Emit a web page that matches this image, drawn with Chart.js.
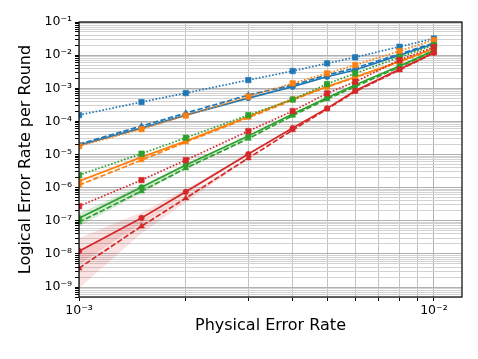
<!DOCTYPE html>
<html>
<head>
<meta charset="utf-8">
<script src="https://cdn.jsdelivr.net/npm/chart.js@4.4.1/dist/chart.umd.min.js"></script>
<style>
    html, body { margin: 0; padding: 0; background: #fff; }
    canvas { display: block; }
</style>
</head>
<body>
<canvas id="myChart" width="478" height="359"></canvas>
<script>
// physical error rates sampled
const physErr = [0.001, 0.0015, 0.002, 0.003, 0.004, 0.005, 0.006, 0.008, 0.01];

// logical error rate per round
const blueDotted   = [1.55e-4, 3.83e-4, 7.16e-4, 1.77e-3, 3.31e-3, 5.65e-3, 8.59e-3, 1.79e-2, 3.18e-2];
const blueDashed   = [2.06e-5, 7.21e-5, 1.78e-4, 6.23e-4, 1.25e-3, 2.51e-3, 4.08e-3, 1.08e-2, 2.32e-2];
const blueSolid    = [1.92e-5, 6.28e-5, 1.55e-4, 5.06e-4, 1.12e-3, 2.23e-3, 3.55e-3, 1.00e-2, 2.16e-2];
const orangeDotted = [1.79e-5, 5.85e-5, 1.50e-4, 5.61e-4, 1.41e-3, 2.82e-3, 5.02e-3, 1.33e-2, 2.86e-2];
const orangeDashed = [1.19e-6, 6.78e-6, 2.37e-5, 1.30e-4, 4.40e-4, 1.09e-3, 2.10e-3, 6.19e-3, 1.53e-2];
const orangeSolid  = [1.57e-6, 8.34e-6, 2.54e-5, 1.40e-4, 4.72e-4, 1.12e-3, 2.18e-3, 6.41e-3, 1.58e-2];
const greenDotted  = [2.39e-6, 1.06e-5, 3.20e-5, 1.55e-4, 4.56e-4, 1.34e-3, 2.82e-3, 8.59e-3, 2.02e-2];
const greenSolid   = [1.20e-7, 1.03e-6, 4.79e-6, 3.60e-5, 1.66e-4, 5.16e-4, 1.25e-3, 4.69e-3, 1.38e-2];
const greenDashed  = [9.07e-8, 7.84e-7, 3.88e-6, 3.02e-5, 1.50e-4, 4.72e-4, 1.12e-3, 4.37e-3, 1.33e-2];
const redDotted    = [2.76e-7, 1.69e-6, 6.78e-6, 5.09e-5, 2.05e-4, 7.02e-4, 1.57e-3, 7.11e-3, 1.76e-2];
const redSolid     = [1.21e-8, 1.22e-7, 7.47e-7, 1.03e-5, 6.28e-5, 2.47e-4, 8.40e-4, 3.72e-3, 1.18e-2];
const redDashed    = [3.70e-9, 6.87e-8, 4.82e-7, 7.78e-6, 5.46e-5, 2.35e-4, 7.95e-4, 3.55e-3, 1.16e-2];

// shaded uncertainty bands at the low end
const bandErr       = [0.001, 0.0015, 0.002, 0.003];
const redSolidHi    = [2.98e-8, 1.82e-7, 9.01e-7, 1.10e-5];
const redSolidLo    = [4.89e-9, 8.46e-8, 6.15e-7, 9.60e-6];
const redDashedHi   = [1.29e-8, 1.04e-7, 5.93e-7, 8.10e-6];
const redDashedLo   = [9.20e-10, 4.22e-8, 3.65e-7, 7.26e-6];
const greenBandHi   = [1.70e-7, 1.19e-6, 5.13e-6, 3.70e-5];
const greenBandLo   = [6.87e-8, 6.82e-7, 3.62e-6, 2.95e-5];

const xTickMin = 0.001, xTickMax = 0.012;
const yTickMin = 5e-10, yTickMax = 0.1;

const BLUE = '#1f77b4', ORANGE = '#ff7f0e', GREEN = '#2ca02c', RED = '#d62728';

document.addEventListener('DOMContentLoaded', () => {

    const isDecade = v => Math.abs(Math.log10(v) - Math.round(Math.log10(v))) < 1e-6;
    const supMap = {'-': '\u207b', '0': '\u2070', '1': '\u00b9', '2': '\u00b2', '3': '\u00b3',
        '4': '\u2074', '5': '\u2075', '6': '\u2076', '7': '\u2077', '8': '\u2078', '9': '\u2079'};
    const decadeLabel = v => isDecade(v)
        ? '10' + String(Math.round(Math.log10(v))).split('').map(c => supMap[c]).join('')
        : '';

    function logTicks(scale) {
        const ticks = [];
        for (let e = -11; e <= 0; e++) {
            for (let m = 1; m <= 9; m++) {
                const v = parseFloat((m * Math.pow(10, e)).toPrecision(6));
                if (v >= scale.min * 0.9999 && v <= scale.max * 1.0001) ticks.push({value: v});
            }
        }
        scale.ticks = ticks;
    }

    const lineStyles = {
        solid:  {dash: [],          point: 'circle',   r: 2.8},
        dashed: {dash: [5.5, 2.2],  point: 'triangle', r: 3.5},
        dotted: {dash: [1.6, 1.8],  point: 'rect',     r: 3.9}
    };

    let idx = 0;
    function series(values, color, style) {
        const s = lineStyles[style];
        idx++;
        return {
            data: physErr.map((x, i) => ({x: x, y: values[i]})),
            borderColor: color,
            backgroundColor: color,
            borderWidth: 1.7,
            borderDash: s.dash,
            pointStyle: s.point,
            pointRadius: s.r,
            pointBorderWidth: 0.5,
            pointBorderColor: color,
            pointBackgroundColor: color,
            tension: 0,
            fill: false,
            clip: 0,
            order: 100 - idx
        };
    }

    function bandEdge(values, color, fillPrev) {
        return {
            data: bandErr.map((x, i) => ({x: x, y: values[i]})),
            borderWidth: 0,
            borderColor: 'rgba(0,0,0,0)',
            backgroundColor: color,
            pointRadius: 0,
            tension: 0,
            fill: fillPrev ? '-1' : false,
            clip: 0,
            order: 200
        };
    }

    const datasets = [
        bandEdge(greenBandHi, 'rgba(44,160,44,0.18)', false),
        bandEdge(greenBandLo, 'rgba(44,160,44,0.18)', true),
        bandEdge(redSolidHi, 'rgba(214,39,40,0.13)', false),
        bandEdge(redSolidLo, 'rgba(214,39,40,0.13)', true),
        bandEdge(redDashedHi, 'rgba(214,39,40,0.13)', false),
        bandEdge(redDashedLo, 'rgba(214,39,40,0.13)', true),
        series(blueDotted, BLUE, 'dotted'),
        series(blueDashed, BLUE, 'dashed'),
        series(blueSolid, BLUE, 'solid'),
        series(orangeDotted, ORANGE, 'dotted'),
        series(orangeDashed, ORANGE, 'dashed'),
        series(orangeSolid, ORANGE, 'solid'),
        series(greenDotted, GREEN, 'dotted'),
        series(greenDashed, GREEN, 'dashed'),
        series(greenSolid, GREEN, 'solid'),
        series(redDotted, RED, 'dotted'),
        series(redDashed, RED, 'dashed'),
        series(redSolid, RED, 'solid')
    ];

    // black box round the plot, like matplotlib spines
    const frame = {
        id: 'frame',
        afterDatasetsDraw(chart) {
            const {ctx, chartArea: a} = chart;
            ctx.save();
            ctx.strokeStyle = '#000';
            ctx.lineWidth = 1.2;
            ctx.strokeRect(a.left, a.top, a.right - a.left, a.bottom - a.top);
            ctx.restore();
        }
    };

    const font = {family: '"DejaVu Sans", sans-serif', size: 12.5};

    const ctx = document.getElementById('myChart').getContext('2d');
    const myChart = new Chart(ctx, {
        type: 'line',
        data: {datasets: datasets},
        plugins: [frame],
        options: {
            responsive: false,
            devicePixelRatio: 1,
            animation: false,
            events: [],
            layout: {padding: {top: 22, right: 16, left: 0, bottom: 0}},
            plugins: {
                legend: {display: false},
                tooltip: {enabled: false}
            },
            scales: {
                x: {
                    type: 'logarithmic',
                    min: xTickMin,
                    max: xTickMax,
                    afterBuildTicks: logTicks,
                    afterFit: scale => { scale.height = 62; },
                    border: {display: false},
                    grid: {
                        color: c => c.tick && isDecade(c.tick.value) ? '#b0b0b0' : '#c4c4c4',
                        tickColor: '#000',
                        tickLength: 4,
                        lineWidth: 1
                    },
                    ticks: {
                        autoSkip: false,
                        maxRotation: 0,
                        color: '#000',
                        font: font,
                        padding: 2,
                        callback: v => decadeLabel(v)
                    },
                    title: {
                        display: true,
                        text: 'Physical Error Rate',
                        color: '#000',
                        font: {family: '"DejaVu Sans", sans-serif', size: 16, lineHeight: 1.2},
                        padding: {top: 0, bottom: 24}
                    }
                },
                y: {
                    type: 'logarithmic',
                    min: yTickMin,
                    max: yTickMax,
                    afterBuildTicks: logTicks,
                    afterFit: scale => { scale.width = 79; },
                    border: {display: false},
                    grid: {
                        color: c => c.tick && isDecade(c.tick.value) ? '#b0b0b0' : '#d2d2d2',
                        tickColor: '#000',
                        tickLength: 4,
                        lineWidth: 1
                    },
                    ticks: {
                        autoSkip: false,
                        color: '#000',
                        font: font,
                        padding: 3,
                        callback: v => decadeLabel(v)
                    },
                    title: {
                        display: true,
                        text: 'Logical Error Rate per Round',
                        color: '#000',
                        font: {family: '"DejaVu Sans", sans-serif', size: 16, lineHeight: 1.2},
                        padding: {top: 16, bottom: 0}
                    }
                }
            }
        }
    });
})
</script>
</body>
</html>
